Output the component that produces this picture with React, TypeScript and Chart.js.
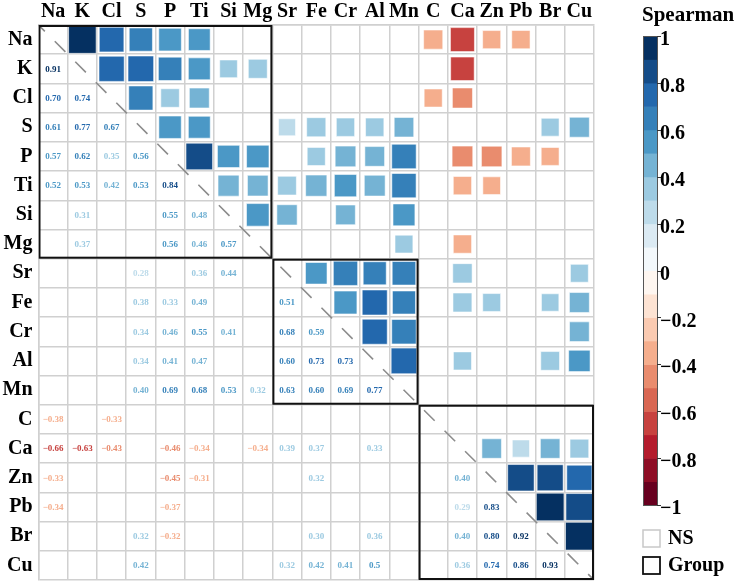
import React, { useEffect, useRef } from 'react';
import { Chart, registerables } from 'chart.js';

Chart.register(...registerables);

// ---- Data ----
const VARS = ['Na', 'K', 'Cl', 'S', 'P', 'Ti', 'Si', 'Mg', 'Sr', 'Fe', 'Cr', 'Al', 'Mn', 'C', 'Ca', 'Zn', 'Pb', 'Br', 'Cu'];

// Lower-triangle Spearman coefficients per row (index = column); null = not significant
const rowNa: (number | null)[] = [];
const rowK = [0.91];
const rowCl = [0.70, 0.74];
const rowS = [0.61, 0.77, 0.67];
const rowP = [0.57, 0.62, 0.35, 0.56];
const rowTi = [0.52, 0.53, 0.42, 0.53, 0.84];
const rowSi = [null, 0.31, null, null, 0.55, 0.48];
const rowMg = [null, 0.37, null, null, 0.56, 0.46, 0.57];
const rowSr = [null, null, null, 0.28, null, 0.36, 0.44, null];
const rowFe = [null, null, null, 0.38, 0.33, 0.49, null, null, 0.51];
const rowCr = [null, null, null, 0.34, 0.46, 0.55, 0.41, null, 0.68, 0.59];
const rowAl = [null, null, null, 0.34, 0.41, 0.47, null, null, 0.60, 0.73, 0.73];
const rowMn = [null, null, null, 0.40, 0.69, 0.68, 0.53, 0.32, 0.63, 0.60, 0.69, 0.77];
const rowC = [-0.38, null, -0.33, null, null, null, null, null, null, null, null, null, null];
const rowCa = [-0.66, -0.63, -0.43, null, -0.46, -0.34, null, -0.34, 0.39, 0.37, null, 0.33, null, null];
const rowZn = [-0.33, null, null, null, -0.45, -0.31, null, null, null, 0.32, null, null, null, null, 0.40];
const rowPb = [-0.34, null, null, null, -0.37, null, null, null, null, null, null, null, null, null, 0.29, 0.83];
const rowBr = [null, null, null, 0.32, -0.32, null, null, null, null, 0.30, null, 0.36, null, null, 0.40, 0.80, 0.92];
const rowCu = [null, null, null, 0.42, null, null, null, null, 0.32, 0.42, 0.41, 0.5, null, null, 0.36, 0.74, 0.86, 0.93];

const ROWS: (number | null)[][] = [rowNa, rowK, rowCl, rowS, rowP, rowTi, rowSi, rowMg, rowSr, rowFe, rowCr, rowAl, rowMn, rowC, rowCa, rowZn, rowPb, rowBr, rowCu];

const GROUP_STARTS = ['Na', 'Sr', 'C'];
const GROUP_ENDS = ['Mg', 'Mn', 'Cu'];

const CB_TICKS = [1, 0.8, 0.6, 0.4, 0.2, 0, -0.2, -0.4, -0.6, -0.8, -1];
const CB_BINS = 20;
const RAMP = ['#67001F', '#B2182B', '#D6604D', '#F4A582', '#FDDBC7', '#FFFFFF', '#D1E5F0', '#92C5DE', '#4393C3', '#2166AC', '#053061'];

const SERIF = '"Liberation Serif", "Times New Roman", Times, serif';

function hexToRgb(h: string) {
  const n = parseInt(h.slice(1), 16);
  return [(n >> 16) & 255, (n >> 8) & 255, n & 255];
}
function rampColor(pos: number) {
  const t = (pos + 1) / 2 * (RAMP.length - 1);
  const i = Math.min(RAMP.length - 2, Math.max(0, Math.floor(t)));
  const f = t - i;
  const a = hexToRgb(RAMP[i]);
  const b = hexToRgb(RAMP[i + 1]);
  const c = a.map((v, k) => Math.round(v + (b[k] - v) * f));
  return `rgb(${c[0]},${c[1]},${c[2]})`;
}
function binIndex(r: number) {
  return Math.min(CB_BINS - 1, Math.max(0, Math.floor(((r + 1) / 2) * CB_BINS + 1e-9)));
}
function binColorByIndex(k: number) {
  return rampColor(-1 + (2 * k) / (CB_BINS - 1));
}
function binColor(r: number) {
  return binColorByIndex(binIndex(r));
}
function fmt(v: number) {
  const s = Math.abs(v) === 0.5 ? '0.5' : Math.abs(v).toFixed(2);
  return v < 0 ? '\u2212' + s : s;
}
function tickFmt(v: number) {
  const s = String(Math.abs(v));
  return v < 0 ? '\u2212' + s : s;
}

const matrixPlugin = {
  id: 'matrixDecor',
  afterDatasetsDraw(chart: any) {
    const { ctx, chartArea: a, scales } = chart;
    const x = scales.x;
    const y = scales.y;
    const cw = Math.abs(x.getPixelForValue(1) - x.getPixelForValue(0));
    const ch = Math.abs(y.getPixelForValue(1) - y.getPixelForValue(0));
    ctx.save();
    // diagonal dashed line
    ctx.beginPath();
    ctx.rect(a.left, a.top, a.right - a.left, a.bottom - a.top);
    ctx.clip();
    ctx.strokeStyle = '#8c8c8c';
    ctx.lineWidth = 1.6;
    ctx.setLineDash([15, 14]);
    ctx.lineDashOffset = 6;
    ctx.beginPath();
    ctx.moveTo(a.left, a.top);
    ctx.lineTo(a.right, a.bottom);
    ctx.stroke();
    ctx.setLineDash([]);

    // coefficient numbers in lower triangle
    ctx.font = `bold 9px ${SERIF}`;
    ctx.textAlign = 'center';
    ctx.textBaseline = 'middle';
    ROWS.forEach((row, i) => {
      row.forEach((v, j) => {
        if (v == null) return;
        ctx.fillStyle = binColor(v);
        ctx.fillText(fmt(v), x.getPixelForValue(j), y.getPixelForValue(i) + 0.5);
      });
    });

    // group boxes
    ctx.strokeStyle = '#111';
    ctx.lineWidth = 2;
    GROUP_STARTS.forEach((s, g) => {
      const i0 = VARS.indexOf(s);
      const i1 = VARS.indexOf(GROUP_ENDS[g]);
      const x0 = x.getPixelForValue(i0) - cw / 2;
      const x1 = x.getPixelForValue(i1) + cw / 2;
      const y0 = y.getPixelForValue(i0) - ch / 2;
      const y1 = y.getPixelForValue(i1) + ch / 2;
      ctx.strokeRect(x0 + 1, y0 + 1, x1 - x0 - 2, y1 - y0 - 2);
    });
    ctx.restore();
  },
  afterDraw(chart: any) {
    const { ctx, chartArea: a } = chart;
    ctx.save();
    const bx = a.right + 49;
    const bw = 14;
    const top = 36;
    const bot = 505;
    // title
    ctx.fillStyle = '#000';
    ctx.font = `bold 21px ${SERIF}`;
    ctx.textAlign = 'left';
    ctx.textBaseline = 'middle';
    ctx.fillText('Spearman', bx - 1, 16);
    // bands
    const bandH = (bot - top) / CB_BINS;
    for (let k = 0; k < CB_BINS; k++) {
      ctx.fillStyle = binColorByIndex(k);
      const yTop = bot - (k + 1) * bandH;
      ctx.fillRect(bx, yTop, bw, bandH + 0.5);
    }
    ctx.strokeStyle = '#555';
    ctx.lineWidth = 1;
    ctx.strokeRect(bx + 0.5, top + 0.5, bw, bot - top);
    // ticks + labels
    ctx.font = `bold 20px ${SERIF}`;
    CB_TICKS.forEach((t) => {
      const ty = bot - ((t + 1) / 2) * (bot - top);
      ctx.strokeStyle = '#333';
      ctx.beginPath();
      ctx.moveTo(bx + bw, Math.round(ty) + 0.5);
      ctx.lineTo(bx + bw + 4, Math.round(ty) + 0.5);
      ctx.stroke();
      ctx.fillStyle = '#000';
      ctx.fillText(tickFmt(t), bx + bw + 3, ty + 4);
    });
    // NS legend
    ctx.lineWidth = 1.5;
    ctx.strokeStyle = '#c8c8c8';
    ctx.strokeRect(bx, 530, 17, 17);
    ctx.fillStyle = '#000';
    ctx.fillText('NS', bx + 25, 539);
    // Group legend
    ctx.strokeStyle = '#111';
    ctx.lineWidth = 1.8;
    ctx.strokeRect(bx, 557, 17, 17);
    ctx.fillText('Group', bx + 25, 566);
    ctx.restore();
  },
};

export default function App() {
  const ref = useRef<HTMLCanvasElement>(null);
  useEffect(() => {
    document.body.style.margin = '0';
    const squares: { x: string; y: string; v: number }[] = [];
    ROWS.forEach((row, i) =>
      row.forEach((v, j) => {
        if (v != null) squares.push({ x: VARS[i], y: VARS[j], v });
      })
    );
    const labelFont = { family: SERIF, size: 20, weight: 'bold' as const };
    const chart = new Chart(ref.current as HTMLCanvasElement, {
      type: 'scatter',
      data: {
        datasets: [
          {
            data: squares as any,
            pointStyle: 'rect',
            radius: (c: any) => {
              const p = c.raw;
              if (!p) return 0;
              const xs = c.chart.scales.x;
              const cell = Math.abs(xs.getPixelForValue(1) - xs.getPixelForValue(0));
              const side = cell * (0.85 * Math.sqrt(Math.abs(p.v)) + 0.13);
              return side / Math.SQRT2;
            },
            backgroundColor: (c: any) => (c.raw ? binColor(c.raw.v) : '#fff'),
            borderColor: 'rgba(255,255,255,0.55)',
            borderWidth: 1,
          } as any,
        ],
      },
      options: {
        animation: false,
        responsive: false,
        events: [],
        layout: { padding: { left: 0, top: 0, right: 146, bottom: 3 } },
        plugins: { legend: { display: false }, tooltip: { enabled: false } },
        scales: {
          x: {
            type: 'category',
            labels: VARS,
            position: 'top',
            offset: true,
            grid: { offset: true, color: '#d0d0d0', lineWidth: 1.5, drawTicks: false },
            border: { display: true, color: '#d0d0d0', width: 1.5 },
            ticks: { font: labelFont, color: '#000', padding: 1, autoSkip: false, maxRotation: 0 },
            afterFit: (s: any) => {
              s.height = 25;
              s.paddingLeft = 0;
              s.paddingRight = 0;
              s.paddingTop = 0;
              s.paddingBottom = 0;
            },
          },
          y: {
            type: 'category',
            labels: VARS,
            offset: true,
            grid: { offset: true, color: '#d0d0d0', lineWidth: 1.5, drawTicks: false },
            border: { display: true, color: '#d0d0d0', width: 1.5 },
            ticks: { font: labelFont, color: '#000', padding: 6, autoSkip: false },
            afterFit: (s: any) => {
              s.width = 38.5;
              s.paddingLeft = 0;
              s.paddingRight = 0;
              s.paddingTop = 0;
              s.paddingBottom = 0;
            },
          },
        } as any,
      },
      plugins: [matrixPlugin],
    });
    return () => chart.destroy();
  }, []);
  return (
    <div style={{ width: 740, height: 583, position: 'relative', background: '#fff' }}>
      <canvas ref={ref} width={740} height={583} style={{ display: 'block' }} />
    </div>
  );
}
